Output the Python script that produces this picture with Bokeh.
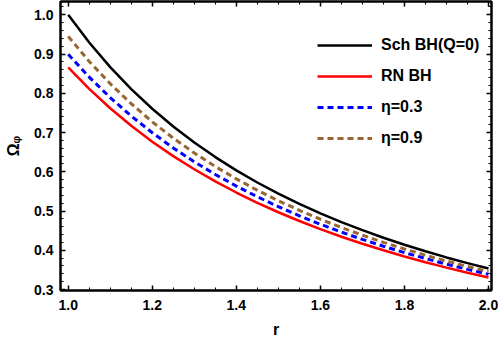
from bokeh.plotting import figure
from bokeh.models import (LinearAxis, Range1d, Legend, LegendItem,
                          SingleIntervalTicker, PrintfTickFormatter, CustomJSTickFormatter)
from bokeh.embed import file_html
from bokeh.resources import INLINE

# ---- data ----
r = [1.0, 1.05, 1.1, 1.15, 1.2, 1.25, 1.3, 1.35, 1.4, 1.45, 1.5,
     1.55, 1.6, 1.65, 1.7, 1.75, 1.8, 1.85, 1.9, 1.95, 2.0]
sch = [1.0, 0.9294, 0.8668, 0.8109, 0.7607, 0.7155, 0.6747, 0.6375, 0.6037, 0.5727, 0.5443,
       0.5182, 0.4941, 0.4718, 0.4512, 0.4320, 0.4141, 0.3974, 0.3818, 0.3672, 0.3536]
rn = [0.8660, 0.8113, 0.7620, 0.7174, 0.6768, 0.6400, 0.6064, 0.5755, 0.5472, 0.5210, 0.4969,
      0.4746, 0.4539, 0.4346, 0.4167, 0.4000, 0.3843, 0.3696, 0.3558, 0.3429, 0.3307]
eta03 = [0.8995, 0.8414, 0.7892, 0.7422, 0.6995, 0.6608, 0.6255, 0.5932, 0.5636, 0.5363, 0.5111,
         0.4879, 0.4664, 0.4463, 0.4277, 0.4104, 0.3941, 0.3789, 0.3646, 0.3513, 0.3387]
eta09 = [0.9451, 0.8813, 0.8245, 0.7734, 0.7273, 0.6857, 0.6479, 0.6134, 0.5819, 0.5529, 0.5263,
         0.5018, 0.4791, 0.4580, 0.4385, 0.4203, 0.4033, 0.3874, 0.3725, 0.3586, 0.3456]
labels = ["Sch BH(Q=0)", "RN BH", "\u03b7=0.3", "\u03b7=0.9"]

FONT = "Liberation Sans"
FRAME = "black"

p = figure(width=498, height=343, output_backend="svg", toolbar_location=None,
           x_range=Range1d(0.9817, 2.0071), y_range=Range1d(0.2975, 1.034),
           min_border_left=60, min_border_right=7, min_border_top=1, min_border_bottom=53,
           x_axis_label="r", y_axis_label="\u03a9\u1d69")
p.grid.visible = False
p.outline_line_color = FRAME
p.outline_line_alpha = 1.0
p.outline_line_width = 2

xt = SingleIntervalTicker(interval=0.2, num_minor_ticks=4)
yt = SingleIntervalTicker(interval=0.1, num_minor_ticks=5)


def style_axis(ax, show_labels=True):
    ax.axis_line_color = FRAME
    ax.axis_line_alpha = 1.0
    ax.axis_line_width = 2
    ax.major_tick_line_color = FRAME
    ax.minor_tick_line_color = FRAME
    ax.major_tick_line_width = 1.5
    ax.minor_tick_line_width = 1
    ax.major_tick_in = 5
    ax.major_tick_out = 0
    ax.minor_tick_in = 3
    ax.minor_tick_out = 0
    ax.major_label_text_font = FONT
    ax.major_label_text_font_style = "bold"
    ax.major_label_text_color = "black"
    ax.axis_label_text_font = FONT
    ax.axis_label_text_font_style = "bold"
    ax.axis_label_text_font_size = "16px"
    ax.axis_label_text_color = "black"
    ax.major_label_text_font_size = "14px"
    if not show_labels:
        ax.formatter = CustomJSTickFormatter(code="return ''")
        ax.major_label_standoff = 0


p.xaxis.ticker = xt
p.yaxis.ticker = yt
p.xaxis.formatter = PrintfTickFormatter(format="%.1f")
p.yaxis.formatter = PrintfTickFormatter(format="%.1f")
style_axis(p.xaxis[0])
style_axis(p.yaxis[0])
p.xaxis.major_label_standoff = 9
p.xaxis.axis_label_standoff = 8
p.yaxis.major_label_standoff = 7
p.yaxis.axis_label_standoff = 9

top = LinearAxis(ticker=xt)
right = LinearAxis(ticker=yt)
style_axis(top, False)
style_axis(right, False)
p.add_layout(top, "above")
p.add_layout(right, "right")

l1 = p.line(r, sch, line_color="black", line_width=2.5)
l2 = p.line(r, rn, line_color="#ff0000", line_width=2.5)
l3 = p.line(r, eta03, line_color="#0000ff", line_width=3, line_dash="6 4")
l4 = p.line(r, eta09, line_color="#996633", line_width=3, line_dash="6 4")

leg = Legend(items=[LegendItem(label=labels[0], renderers=[l1]),
                    LegendItem(label=labels[1], renderers=[l2]),
                    LegendItem(label=labels[2], renderers=[l3]),
                    LegendItem(label=labels[3], renderers=[l4])],
             location=(257, 142), padding=0, margin=0, spacing=11,
             glyph_width=55, glyph_height=20, label_height=20, label_standoff=9,
             label_text_font=FONT, label_text_font_style="bold",
             label_text_font_size="16px", label_text_color="black",
             border_line_alpha=0, background_fill_alpha=0)
p.add_layout(leg, "center")

open("out.html", "w").write(file_html(p, INLINE))
